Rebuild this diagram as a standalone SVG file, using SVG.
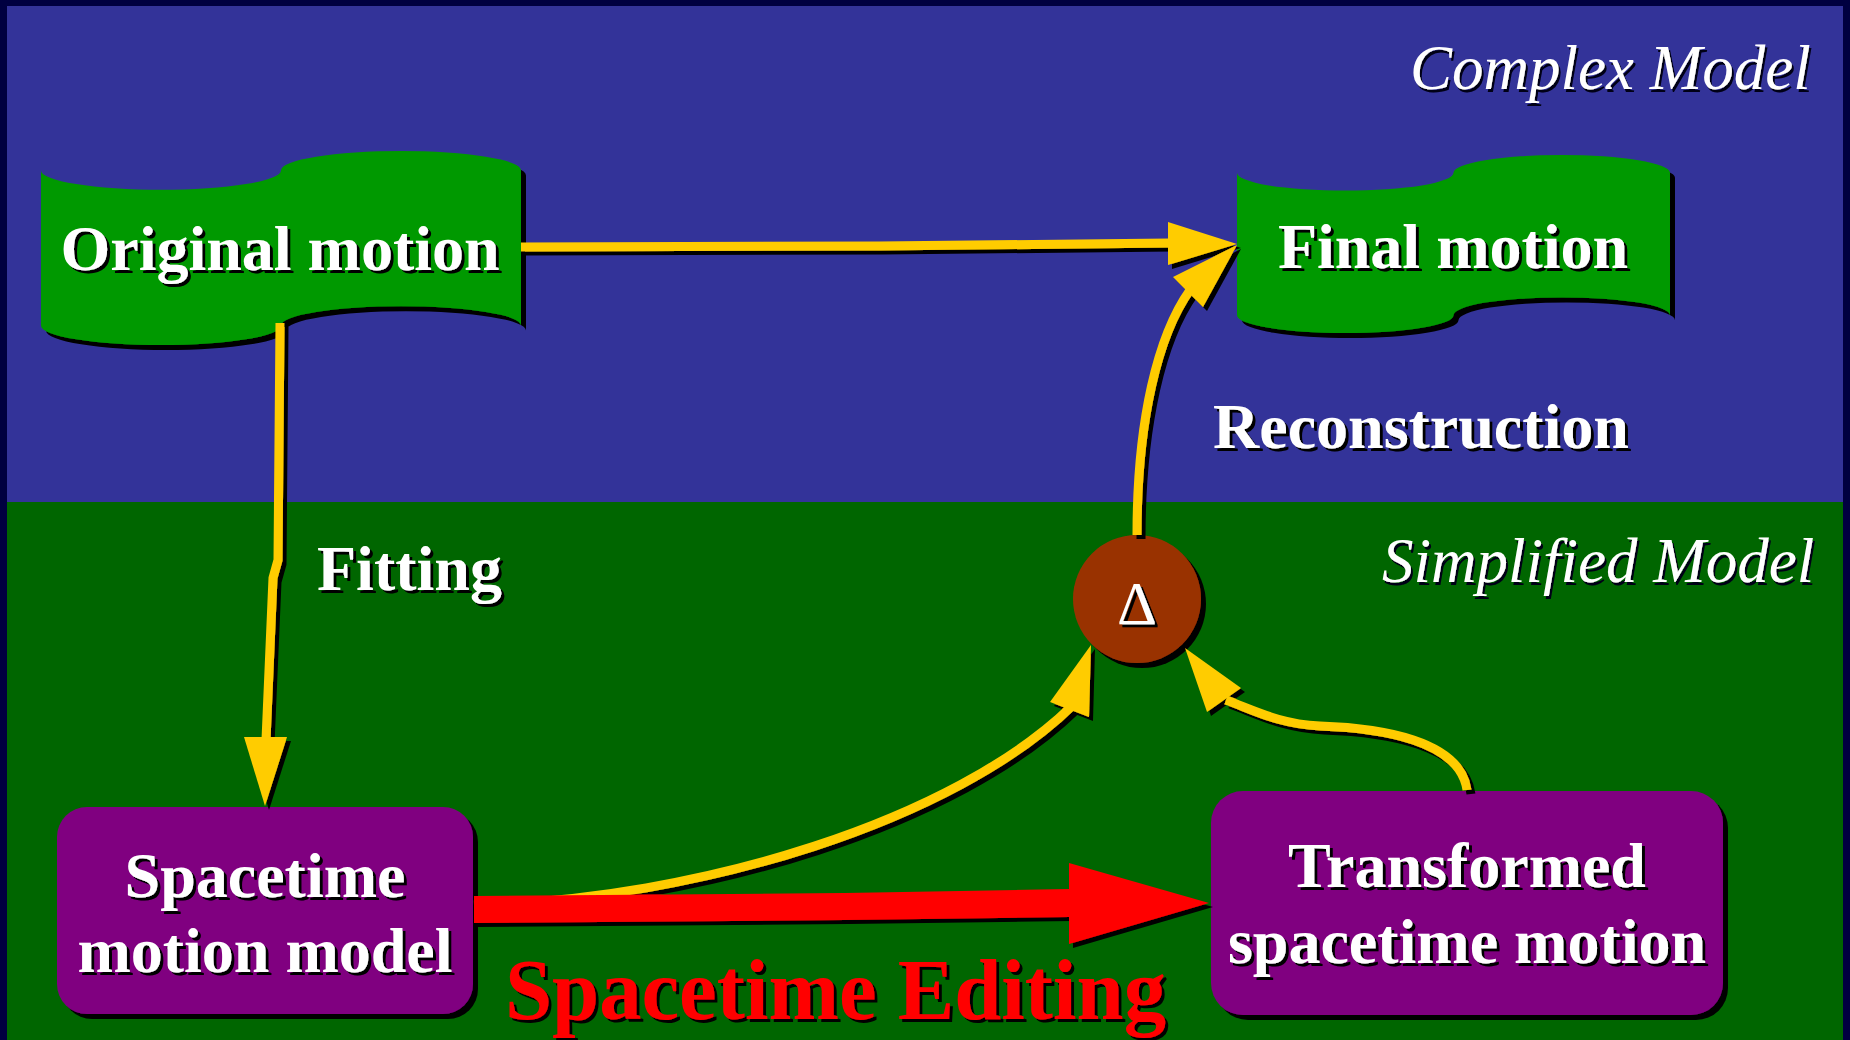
<svg xmlns="http://www.w3.org/2000/svg" width="1850" height="1040" viewBox="0 0 1850 1040">
  <defs>
    <filter id="shadowShape" filterUnits="userSpaceOnUse" x="0" y="0" width="1850" height="1040">
      <feDropShadow dx="5" dy="5" stdDeviation="0" flood-color="#000" flood-opacity="1"/>
    </filter>
    <filter id="shadowLine" filterUnits="userSpaceOnUse" x="0" y="0" width="1850" height="1040">
      <feDropShadow dx="4" dy="4" stdDeviation="0" flood-color="#000" flood-opacity="1"/>
    </filter>
    <filter id="shadowText" filterUnits="userSpaceOnUse" x="0" y="0" width="1850" height="1040">
      <feDropShadow dx="3" dy="3" stdDeviation="0" flood-color="#000" flood-opacity="1"/>
    </filter>
    <filter id="shadowItalic" filterUnits="userSpaceOnUse" x="0" y="0" width="1850" height="1040">
      <feDropShadow dx="2" dy="3" stdDeviation="0" flood-color="#000018" flood-opacity="1"/>
    </filter>
  </defs>
  <style>
    .label { font-family: "Liberation Serif", "Times New Roman", serif; font-weight: bold; font-size: 64px; fill: #fff; filter: url(#shadowText); }
    .mid { text-anchor: middle; }
    .zone { font-family: "Liberation Serif", "Times New Roman", serif; font-style: italic; font-size: 63px; fill: #fff; filter: url(#shadowItalic); }
    .banner { fill: #009900; filter: url(#shadowShape); }
    .box { fill: #800080; filter: url(#shadowShape); }
    .wire { fill: none; stroke: #FFCC00; stroke-width: 9; }
    .head { fill: #FFCC00; stroke: none; }
    .title { font-family: "Liberation Serif", "Times New Roman", serif; font-weight: bold; font-size: 86px; fill: #FF0000; filter: url(#shadowText); }
  </style>

  <!-- backdrop: upper band = complex model, lower band = simplified model -->
  <rect x="0" y="0" width="1850" height="1040" fill="#000040"/>
  <rect x="7" y="6" width="1836" height="496" fill="#333399"/>
  <rect x="7" y="502" width="1836" height="538" fill="#006600"/>

  <text class="zone" x="1410" y="89">Complex Model</text>
  <text class="zone" x="1382" y="582">Simplified Model</text>

  <!-- nodes -->
  <g id="original-motion">
    <path class="banner" d="M41,170.4 A120,19.4 0 0 0 281,170.4 A120,19.4 0 0 1 521,170.4 L521,325.6 A120,19.4 0 0 0 281,325.6 A120,19.4 0 0 1 41,325.6 Z"/>
    <text class="label mid" x="280" y="270">Original motion</text>
  </g>

  <g id="final-motion">
    <path class="banner" d="M1237,172.8 A108.25,17.8 0 0 0 1453.5,172.8 A108.25,17.8 0 0 1 1670,172.8 L1670,315.2 A108.25,17.8 0 0 0 1453.5,315.2 A108.25,17.8 0 0 1 1237,315.2 Z"/>
    <text class="label mid" x="1453" y="268">Final motion</text>
  </g>

  <g id="spacetime-model">
    <rect class="box" x="57" y="807" width="416" height="207" rx="30" ry="30"/>
    <text class="label mid" x="265" y="897">Spacetime</text>
    <text class="label mid" x="265" y="972">motion model</text>
  </g>

  <g id="transformed-motion">
    <rect class="box" x="1211" y="791" width="512" height="224" rx="32" ry="32"/>
    <text class="label mid" x="1467" y="887">Transformed</text>
    <text class="label mid" x="1467" y="963">spacetime motion</text>
  </g>

  <g id="delta">
    <circle cx="1137" cy="599" r="64" fill="#993300" filter="url(#shadowShape)"/>
    <text x="1137" y="624" text-anchor="middle" font-family="'Liberation Serif', 'Times New Roman', serif" font-size="62" fill="#fff" filter="url(#shadowText)">Δ</text>
  </g>

  <!-- connectors -->
  <g id="connectors">
    <g filter="url(#shadowLine)">
      <!-- original -> final -->
      <path class="wire" d="M521,247 L879,246 L1170,243"/>
      <polygon class="head" points="1168,222 1237,244 1168,265"/>
      <!-- original -> spacetime model (fitting) -->
      <path class="wire" d="M280,323 L278,560 L273,578 L266,740"/>
      <polygon class="head" points="244,737 287,737 265,806"/>
      <!-- delta -> final (reconstruction) -->
      <path class="wire" d="M1137,535 C1137,420 1158,335 1190,290"/>
      <polygon class="head" points="1173,277 1237,245 1203,307"/>
      <!-- spacetime model -> delta -->
      <path class="wire" d="M474,905 C700,900 955,820 1072,706"/>
      <polygon class="head" points="1050,702 1091,645 1089,717"/>
      <!-- transformed -> delta -->
      <path class="wire" d="M1467,790 C1460,740 1380,728 1320,726 C1280,724 1258,712 1226,700"/>
      <polygon class="head" points="1207,712 1185,648 1241,688"/>
      <!-- spacetime editing: model -> transformed -->
      <polygon fill="#FF0000" points="474,896 845,893 1069,889 1069,863 1209,903 1069,944 1069,917 845,920 474,923"/>
    </g>
  </g>

  <text class="label" x="317" y="590">Fitting</text>
  <text class="label" x="1213" y="448">Reconstruction</text>
  <text class="title" x="505" y="1019" textLength="661" lengthAdjust="spacingAndGlyphs">Spacetime Editing</text>
</svg>
